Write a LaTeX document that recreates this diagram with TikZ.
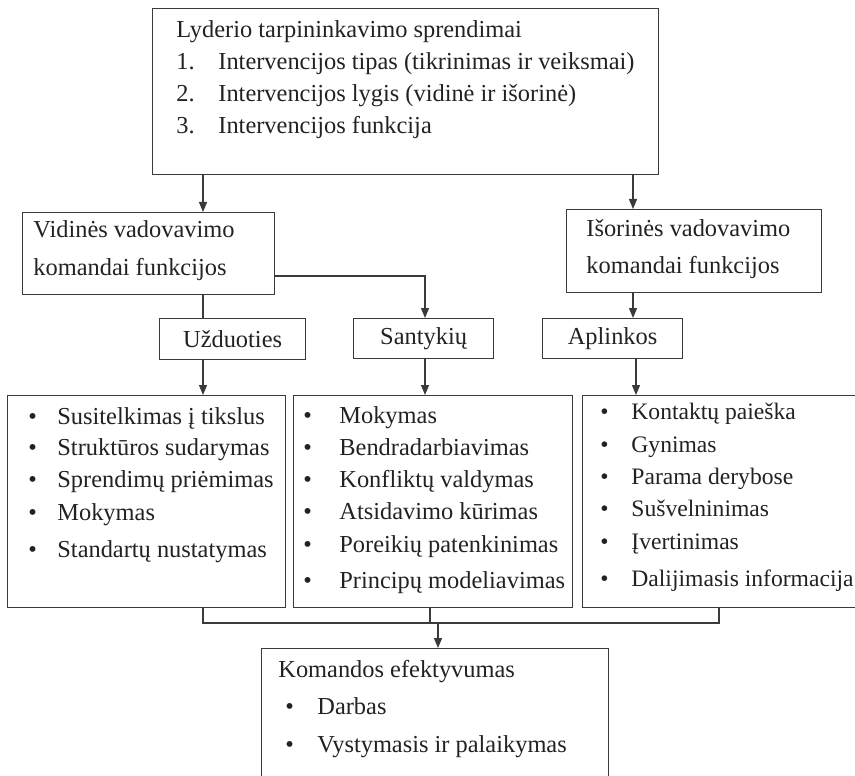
\documentclass[tikz,border=0pt]{standalone}
\usepackage{fontspec}
\setmainfont{Liberation Serif}
\usetikzlibrary{arrows.meta}
\definecolor{ink}{HTML}{222222}
\definecolor{rule}{HTML}{3A3A3A}
\begin{document}
\begin{tikzpicture}[x=0.5pt,y=-0.5pt,
  box/.style={draw=rule, line width=0.6pt, rectangle, inner sep=0pt, anchor=north west,
    font=\fontsize{12.2}{14}\selectfont, text=ink},
  txt/.style={anchor=mid west, inner sep=0pt, font=\fontsize{12.2}{14}\selectfont, text=ink},
  narrowtxt/.style={txt, font=\fontsize{11.8}{14}\selectfont},
  wire/.style={draw=rule, line width=0.6pt},
  arr/.style={wire, -{Triangle[length=5pt,width=4pt]}}]
\path[use as bounding box, clip] (0,0) rectangle (855,775);

% boxes
\node[box, minimum width=253pt, minimum height=83pt] (top) at (152,8) {};
\node[box, minimum width=126pt, minimum height=41pt] (vid) at (22,212) {};
\node[box, minimum width=127.5pt, minimum height=41.5pt] (isor) at (566,209) {};
\node[box, minimum width=73pt, minimum height=20.5pt] (uzd) at (159,318) {Užduoties};
\node[box, minimum width=70pt, minimum height=20pt] (sant) at (353,318) {Santykių};
\node[box, minimum width=70pt, minimum height=20pt] (apl) at (542,318) {Aplinkos};
\node[box, minimum width=139pt, minimum height=106pt] (lb) at (7,395) {};
\node[box, minimum width=139.5pt, minimum height=106pt] (mb) at (293,395) {};
\node[box, minimum width=150pt, minimum height=106pt] (rb) at (582,395) {};
\node[box, minimum width=173.5pt, minimum height=80pt] (bb) at (261,648) {};

% top box text
\node[txt] (t0) at (176,33) {Lyderio tarpininkavimo sprendimai};
\node[txt] (n1) at (176,65) {1.};
\node[txt] (t1) at (218,65) {Intervencijos tipas (tikrinimas ir veiksmai)};
\node[txt] (n2) at (176,97) {2.};
\node[txt] (t2) at (218,97) {Intervencijos lygis (vidinė ir išorinė)};
\node[txt] (n3) at (176,129) {3.};
\node[txt] (t3) at (218,129) {Intervencijos funkcija};

% level boxes text
\node[txt] (v1) at (33,233) {Vidinės vadovavimo};
\node[txt] (v2) at (33,271) {komandai funkcijos};
\node[txt] (i1) at (586,232) {Išorinės vadovavimo};
\node[txt] (i2) at (586,269) {komandai funkcijos};

% bullet lists
\foreach \y/\s [count=\k] in {420/{Susitelkimas į tikslus},
    451/{Struktūros sudarymas},
    483/{Sprendimų priėmimas},
    516/{Mokymas},
    553/{Standartų nustatymas}}{
  \node[txt] (lbb\k) at (28,\y) {\textbullet};
  \node[txt] (lbt\k) at (57,\y) {\s};
}
\foreach \y/\s [count=\k] in {419/{Mokymas},
    451/{Bendradarbiavimas},
    483/{Konfliktų valdymas},
    515/{Atsidavimo kūrimas},
    548/{Poreikių patenkinimas},
    584/{Principų modeliavimas}}{
  \node[txt] (mbb\k) at (303,\y) {\textbullet};
  \node[txt] (mbt\k) at (339,\y) {\s};
}
\foreach \y/\s [count=\k] in {415/{Kontaktų paieška},
    448/{Gynimas},
    480/{Parama derybose},
    512/{Sušvelninimas},
    545/{Įvertinimas},
    582/{Dalijimasis informacija}}{
  \node[narrowtxt] (rbb\k) at (600,\y) {\textbullet};
  \node[narrowtxt] (rbt\k) at (631,\y) {\s};
}

% outcome box text
\node[txt] (b0) at (278,673) {Komandos efektyvumas};
\node[txt] (bb1) at (285,710) {\textbullet};
\node[txt] (bt1) at (317,710) {Darbas};
\node[txt] (bb2) at (285,748) {\textbullet};
\node[txt] (bt2) at (317,748) {Vystymasis ir palaikymas};

% connector columns
\coordinate (cL) at (203,0);
\coordinate (cM) at (425,0);
\coordinate (cR) at (633,0);
\coordinate (cR2) at (636,0);
\coordinate (cM2) at (430,0);
\coordinate (cE) at (719,0);
\coordinate (j) at (438,623);

% connectors
\draw[arr] (top.south -| cL) -- (vid.north -| cL);
\draw[arr] (top.south -| cR) -- (isor.north -| cR);
\draw[wire] (vid.south -| cL) -- (uzd.north -| cL);
\draw[arr] (vid.east |- 0,276) -| (sant.north -| cM);
\draw[arr] (isor.south -| cR) -- (apl.north -| cR);
\draw[arr] (uzd.south -| cL) -- (lb.north -| cL);
\draw[arr] (sant.south -| cM) -- (mb.north -| cM);
\draw[arr] (apl.south -| cR2) -- (rb.north -| cR2);
\draw[wire] (lb.south -| cL) -- (cL |- j) -- (j -| cE) -- (rb.south -| cE);
\draw[wire] (mb.south -| cM2) -- (cM2 |- j);
\draw[arr] (j) -- (bb.north -| j);
\end{tikzpicture}
\end{document}
